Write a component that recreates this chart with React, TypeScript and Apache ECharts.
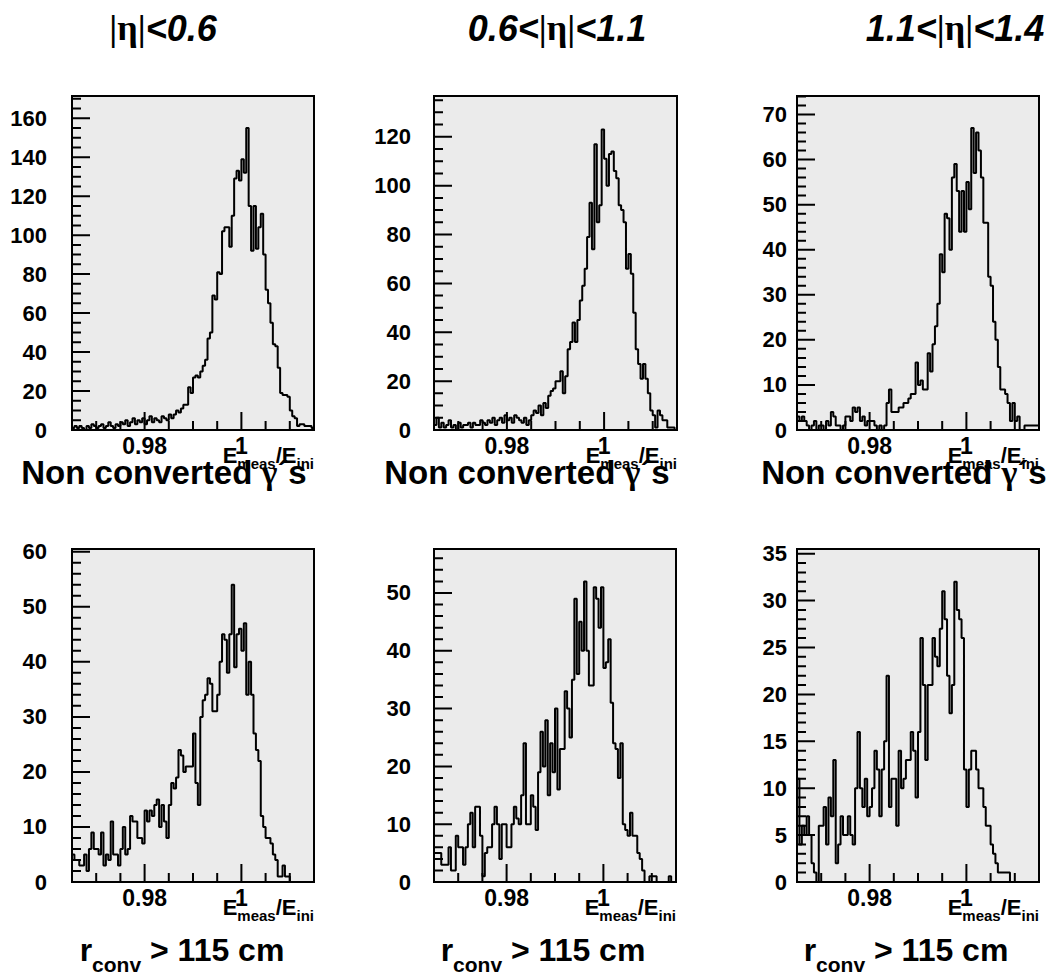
import React, { useEffect, useRef } from "react";
import * as echarts from "echarts";

// ---- binning (E_meas / E_ini) ----
const X_MIN = 0.965;
const X_MAX = 1.015;
const BIN_WIDTH = 0.0005;

// ---- tick labels ----
const xLabelValues = [0.98, 1.0];
const yTicks_nc06 = [0, 20, 40, 60, 80, 100, 120, 140, 160];
const yTicks_nc0611 = [0, 20, 40, 60, 80, 100, 120];
const yTicks_nc1114 = [0, 10, 20, 30, 40, 50, 60, 70];
const yTicks_cv06 = [0, 10, 20, 30, 40, 50, 60];
const yTicks_cv0611 = [0, 10, 20, 30, 40, 50];
const yTicks_cv1114 = [0, 5, 10, 15, 20, 25, 30, 35];

// ---- titles ----
const etaRanges = [
  ["", "<0.6"],
  ["0.6<", "<1.1"],
  ["1.1<", "<1.4"],
];

// ---- histogram contents (100 bins each) ----
// Non converted photons
const nonConv_eta06 = [
  1, 2, 1, 2, 1, 0, 2, 1, 3, 2, 1, 2, 3, 1, 2, 4, 2, 1, 3, 2, 4,
  3, 5, 2, 4, 6, 3, 5, 4, 6, 3, 5, 7, 4, 6, 5, 4, 7, 6, 5, 8,
  6, 8, 10, 9, 11,
  13, 13, 22, 19, 27, 28, 27, 30, 33, 36, 47, 50, 69, 67,
  81, 80, 102, 104, 104, 94, 110, 129, 133, 128, 139, 132, 155, 115, 92, 115, 93, 104, 111, 90,
  72, 65, 55, 44, 43, 32, 19, 18, 18, 17, 10, 7, 6, 2, 3, 3, 2, 2, 2, 1,
];
const nonConv_eta0611 = [
  2, 5, 1, 3, 1, 2, 4, 1, 2, 0, 3, 1, 2, 2, 3, 1, 3, 2, 2, 4, 3,
  2, 4, 3, 5, 2, 4, 5, 3, 6, 4, 5, 3, 6, 5, 4, 3, 5, 2, 4, 6,
  8, 7, 10, 6, 11, 9,
  14, 16, 17, 20, 20, 24, 15, 22, 33, 36, 44, 36, 45,
  53, 59, 66, 79, 93, 74, 117, 85, 92, 123, 111, 100, 113, 114, 106, 103, 92, 90, 85, 66, 72, 64,
  48, 33, 27, 21, 27, 21, 15, 8, 6, 1, 8, 6, 4, 4, 1, 1, 1, 0,
];
const nonConv_eta1114 = [
  3, 2, 3, 2, 1, 0, 1, 2, 0, 1, 1, 0, 2, 1, 4, 3, 1, 1, 0, 1, 3, 3, 2, 5, 4, 5, 2, 3, 1, 2,
  2, 2, 1, 0, 1, 0, 1,
  6, 9, 4, 4, 4, 5, 5, 6, 6, 7, 8, 8, 15, 10, 11, 9, 9, 17, 13, 19, 23, 28,
  39, 35, 48, 47, 40, 56, 59, 53, 44, 53, 44, 55, 49, 67, 57, 66, 62, 56, 46, 46, 34,
  32, 24, 20, 14, 9, 9, 8, 6, 2, 6, 2, 3, 0, 0, 1, 1, 1, 1, 1, 1,
];
// Converted photons, r_conv > 115 cm
const conv_eta06 = [
  5, 4, 4, 3, 3, 5, 2, 6, 9, 6, 6, 5, 9, 3, 5, 4, 11, 5, 5, 3, 6, 10, 5, 6, 12, 11, 11, 8, 8, 7,
  13, 11, 13, 12, 14, 15, 10, 14, 11, 8, 14,
  18, 17, 19, 24, 23, 20, 21, 21, 21, 27, 18, 14, 30, 33, 34, 37, 36, 31, 31, 34,
  40, 45, 44, 38, 45, 54, 39, 45, 46, 42, 47, 34, 40, 34, 27, 24, 22, 12, 10, 8,
  8, 7, 5, 4, 1, 1, 3, 1, 1, 0, 0, 0, 0, 0, 0, 0, 0, 0, 0,
];
const conv_eta0611 = [
  5, 5, 5, 3, 3, 3, 6, 2, 2, 8, 6, 6, 3, 6, 10, 12, 6, 13, 13, 8, 1,
  5, 6, 6, 10, 13, 10, 4, 10, 10, 6, 6, 10, 13, 11, 10, 15, 24, 10, 10, 15,
  13, 9, 19, 26, 20, 28, 15, 24, 19, 30, 16, 23, 23, 33, 30, 25, 35, 49, 36, 45,
  40, 52, 40, 34, 34, 51, 49, 44, 51, 37, 38, 42, 31, 24, 23, 18, 24, 10, 9, 8,
  12, 8, 8, 5, 4, 2, 0, 0, 1, 1, 1, 0, 0, 0, 0, 0, 1, 0, 0,
];
const conv_eta1114 = [
  11, 4, 6, 5, 7, 5, 2, 1, 0, 6, 6, 8, 4, 9, 7, 13, 2, 4, 7, 5, 5,
  7, 5, 4, 10, 16, 10, 8, 11, 7, 8, 10, 14, 12, 7, 12, 15, 22, 8, 11, 11,
  6, 14, 10, 11, 13, 13, 16, 14, 9, 16, 26, 21, 13, 21, 21, 26, 24, 23, 27, 31,
  28, 22, 18, 21, 32, 29, 28, 26, 12, 8, 12, 14, 14, 12, 10, 10, 8, 6, 6, 4,
  3, 2, 1, 1, 1, 1, 1, 0, 0, 0, 0, 0, 0, 0, 0, 0, 0, 0, 0,
];

const FONT = "Liberation Sans";
const SERIF = "Liberation Serif";

type Panel = {
  data: number[];
  yMax: number;
  yTicks: number[];
  yMinorSplit: number;
  labelMargin: number;
  left: number;
  top: number;
  width: number;
  height: number;
};

const panels: Panel[] = [
  { data: nonConv_eta06, yMax: 171.4, yTicks: yTicks_nc06, yMinorSplit: 4, labelMargin: 25, left: 72, top: 96, width: 242, height: 334 },
  { data: nonConv_eta0611, yMax: 136.7, yTicks: yTicks_nc0611, yMinorSplit: 4, labelMargin: 23, left: 434, top: 96, width: 243, height: 334 },
  { data: nonConv_eta1114, yMax: 74.1, yTicks: yTicks_nc1114, yMinorSplit: 5, labelMargin: 10, left: 797, top: 96, width: 242, height: 334 },
  { data: conv_eta06, yMax: 60.5, yTicks: yTicks_cv06, yMinorSplit: 5, labelMargin: 25, left: 72, top: 549, width: 242, height: 333 },
  { data: conv_eta0611, yMax: 57.6, yTicks: yTicks_cv0611, yMinorSplit: 5, labelMargin: 23, left: 434, top: 549, width: 242, height: 333 },
  { data: conv_eta1114, yMax: 35.5, yTicks: yTicks_cv1114, yMinorSplit: 5, labelMargin: 10, left: 797, top: 549, width: 242, height: 333 },
];

const X_MAJOR_STEP = 0.02;
const X_MINOR_STEP = 0.005;
const MAJOR_LEN = 18;
const MINOR_LEN = 9;

function histPoints(vals: number[]) {
  const pts = vals.map((v, i) => [X_MIN + i * BIN_WIDTH, v]);
  pts.push([X_MAX, vals[vals.length - 1]]);
  return pts;
}

const black = "#000";
const near = (list: number[], v: number) => list.some((m) => Math.abs(m - v) < 1e-9);

// tick marks as short segments in axis units (pixel lengths converted through the panel scale),
// separated by empty points so the line breaks between ticks
function tickSegments(p: Panel) {
  const pts: any[] = [];
  const perPxY = p.yMax / p.height;
  const perPxX = (X_MAX - X_MIN) / p.width;
  for (let i = 1; X_MIN + i * X_MINOR_STEP < X_MAX - 1e-9; i++) {
    const v = +(X_MIN + i * X_MINOR_STEP).toFixed(4);
    const len = near(xLabelValues, v) ? MAJOR_LEN : MINOR_LEN;
    pts.push([v, 0], [v, len * perPxY], [v, "-"]);
  }
  const yMinorStep = (p.yTicks[1] - p.yTicks[0]) / p.yMinorSplit;
  for (let k = 1; k * yMinorStep < p.yMax; k++) {
    const v = +(k * yMinorStep).toFixed(4);
    const len = near(p.yTicks, v) ? MAJOR_LEN : MINOR_LEN;
    const x2 = X_MIN + len * perPxX;
    pts.push([X_MIN, v], [x2, v], [x2, "-"]);
  }
  return pts;
}

function buildOption() {
  const grid: any[] = [];
  const xAxis: any[] = [];
  const yAxis: any[] = [];
  const series: any[] = [];
  const title: any[] = [];

  panels.forEach((p, k) => {
    const yStep = p.yTicks[1] - p.yTicks[0];
    grid.push({
      left: p.left, top: p.top, width: p.width, height: p.height,
      show: true, backgroundColor: "#ebebeb", borderColor: black, borderWidth: 2,
    });
    xAxis.push({
      type: "value", gridIndex: k, min: X_MIN, max: X_MAX, position: "bottom", z: 5,
      minInterval: X_MAJOR_STEP, maxInterval: X_MAJOR_STEP,
      axisLine: { show: true, onZero: false, lineStyle: { color: black, width: 2 } },
      axisTick: { show: false },
      splitLine: { show: false },
      axisLabel: {
        show: true, margin: 4, hideOverlap: false,
        formatter: (v: number) => (near(xLabelValues, v) ? (Math.abs(v - 1) < 1e-9 ? "1" : v.toFixed(2)) : ""),
        fontSize: 23, fontWeight: "bold", fontFamily: FONT, color: black,
      },
    });
    yAxis.push({
      type: "value", gridIndex: k, min: 0, max: p.yMax, position: "left", z: 5,
      minInterval: yStep, maxInterval: yStep,
      axisLine: { show: true, onZero: false, lineStyle: { color: black, width: 2 } },
      axisTick: { show: false },
      splitLine: { show: false },
      axisLabel: {
        show: true, margin: p.labelMargin, hideOverlap: false,
        formatter: (v: number) => (near(p.yTicks, v) ? String(Math.round(v)) : ""),
        fontSize: 22, fontWeight: "bold", fontFamily: FONT, color: black,
      },
    });
    // histogram
    series.push({
      type: "line", xAxisIndex: k, yAxisIndex: k, data: histPoints(p.data),
      step: "end", symbol: "none", showSymbol: false, clip: true, z: 3,
      lineStyle: { color: black, width: 2 },
    });
    // tick marks
    series.push({
      type: "line", xAxisIndex: k, yAxisIndex: k, data: tickSegments(p),
      symbol: "none", showSymbol: false, connectNulls: false, clip: true, z: 4, silent: true,
      lineStyle: { color: black, width: 2 },
    });

    // axis title E_meas/E_ini
    title.push({
      text: "{m|E}{s|meas}{m|/E}{s|ini}",
      left: p.left + p.width, top: p.top + p.height + 14, textAlign: "right", padding: 0, z: 10,
      textStyle: {
        fontSize: 22, fontWeight: "bold", fontFamily: FONT, color: black,
        rich: {
          m: { fontSize: 22, fontWeight: "bold", fontFamily: FONT, color: black, lineHeight: 22, verticalAlign: "top" },
          s: { fontSize: 15, fontWeight: "bold", fontFamily: FONT, color: black, lineHeight: 27, verticalAlign: "bottom" },
        },
      },
    });
  });

  // top titles
  const titleX = [163, 557, 955];
  etaRanges.forEach((r, i) => {
    title.push({
      text: (r[0] ? "{n|" + r[0] + "}" : "") + "{g||η|}{n|" + r[1] + "}",
      left: titleX[i], top: 8, textAlign: "center", padding: 0, z: 10,
      textStyle: {
        fontSize: 36, color: black,
        rich: {
          n: { fontSize: 36, fontWeight: "bold", fontStyle: "italic", fontFamily: FONT, color: black, lineHeight: 40 },
          g: { fontSize: 36, fontFamily: SERIF, color: black, lineHeight: 40 },
        },
      },
    });
  });

  // row labels
  const midX = [164, 527, 904];
  midX.forEach((x) => {
    title.push({
      text: "{n|Non converted }{g|γ}{n|´s}",
      left: x, top: 452, textAlign: "center", padding: 0, z: 10,
      textStyle: {
        fontSize: 33, color: black,
        rich: {
          n: { fontSize: 33, fontWeight: "bold", fontFamily: FONT, color: black, lineHeight: 40 },
          g: { fontSize: 34, fontFamily: SERIF, color: black, lineHeight: 40 },
        },
      },
    });
  });
  const botX = [182, 543, 906];
  botX.forEach((x) => {
    title.push({
      text: "{n|r}{s|conv}{n| > 115 cm}",
      left: x, top: 934, textAlign: "center", padding: 0, z: 10,
      textStyle: {
        fontSize: 32, fontWeight: "bold", fontFamily: FONT, color: black,
        rich: {
          n: { fontSize: 32, fontWeight: "bold", fontFamily: FONT, color: black, lineHeight: 32, verticalAlign: "top" },
          s: { fontSize: 21, fontWeight: "bold", fontFamily: FONT, color: black, lineHeight: 41, verticalAlign: "bottom" },
        },
      },
    });
  });

  return { animation: false, backgroundColor: "#fff", title, grid, xAxis, yAxis, series };
}

export default function App() {
  const ref = useRef<HTMLDivElement>(null);
  useEffect(() => {
    if (!ref.current) return;
    const chart = echarts.init(ref.current, undefined, { renderer: "svg" });
    chart.setOption(buildOption() as any);
    return () => chart.dispose();
  }, []);
  return (
    <div
      ref={ref}
      style={{ position: "absolute", left: 0, top: 0, width: 1064, height: 978, background: "#fff" }}
    />
  );
}
